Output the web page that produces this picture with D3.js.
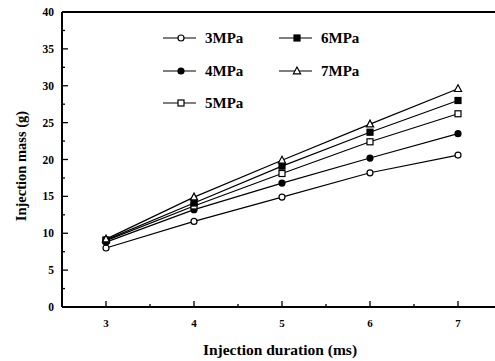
<!DOCTYPE html>
<html>
<head>
<meta charset="utf-8">
<script src="https://cdn.jsdelivr.net/npm/d3@7"></script>
<style>
  body { margin: 0; background: #fff; }
  text { font-family: "Liberation Serif", "Times New Roman", serif; font-weight: bold; fill: #000; }
</style>
</head>
<body>
<script>
// injection duration (ms)
const durations = [3, 4, 5, 6, 7];
// injection mass (g) for each pressure
const p3 = [8.0, 11.6, 14.9, 18.2, 20.6];
const p4 = [8.8, 13.2, 16.8, 20.2, 23.5];
const p5 = [9.0, 13.7, 18.1, 22.4, 26.2];
const p6 = [9.1, 14.1, 19.1, 23.7, 28.0];
const p7 = [9.2, 14.9, 19.9, 24.8, 29.6];
const seriesNames = ["3MPa", "4MPa", "5MPa", "6MPa", "7MPa"];
const xTicks = [3, 4, 5, 6, 7];
const yTicks = [0, 5, 10, 15, 20, 25, 30, 35, 40];

const series = [
  {name: "3MPa", vals: p3, mark: "circle", fill: "#fff"},
  {name: "4MPa", vals: p4, mark: "circle", fill: "#000"},
  {name: "5MPa", vals: p5, mark: "square", fill: "#fff"},
  {name: "6MPa", vals: p6, mark: "square", fill: "#000"},
  {name: "7MPa", vals: p7, mark: "triangle", fill: "#fff"}
];

const svg = d3.select("body").append("svg")
    .attr("width", 495)
    .attr("height", 361);

const x = d3.scaleLinear().domain([2.5, 7.5]).range([62, 502]);
const y = d3.scaleLinear().domain([0, 40]).range([307, 12]);

// frame
svg.append("line").attr("x1", 62).attr("x2", 495).attr("y1", 307).attr("y2", 307)
    .attr("stroke", "#000").attr("stroke-width", 2);
svg.append("line").attr("x1", 62).attr("x2", 62).attr("y1", 12).attr("y2", 307)
    .attr("stroke", "#000").attr("stroke-width", 2);
svg.append("line").attr("x1", 62).attr("x2", 495).attr("y1", 12).attr("y2", 12)
    .attr("stroke", "#000").attr("stroke-width", 2);

// x ticks (inward)
svg.selectAll(".xt").data(d3.range(3, 7.6, 0.5)).join("line")
    .attr("class", "xt")
    .attr("x1", d => x(d)).attr("x2", d => x(d))
    .attr("y1", 307).attr("y2", d => Number.isInteger(d) ? 301 : 304)
    .attr("stroke", "#000").attr("stroke-width", 1.3);
svg.selectAll(".xl").data(xTicks).join("text")
    .attr("class", "xl")
    .attr("x", d => x(d)).attr("y", 327)
    .attr("text-anchor", "middle").attr("font-size", 11)
    .text(d => d);

// y ticks (inward)
svg.selectAll(".yt").data(d3.range(2.5, 40, 2.5)).join("line")
    .attr("class", "yt")
    .attr("y1", d => y(d)).attr("y2", d => y(d))
    .attr("x1", 62).attr("x2", d => d % 5 === 0 ? 68 : 65)
    .attr("stroke", "#000").attr("stroke-width", 1.3);
svg.selectAll(".yl").data(yTicks).join("text")
    .attr("class", "yl")
    .attr("x", 54).attr("y", d => y(d) + 4)
    .attr("text-anchor", "end").attr("font-size", 11.5)
    .text(d => d);

// axis titles
svg.append("text").attr("x", 280).attr("y", 355)
    .attr("text-anchor", "middle").attr("font-size", 15.5)
    .text("Injection duration (ms)");
svg.append("text")
    .attr("transform", "translate(26,166) rotate(-90)")
    .attr("text-anchor", "middle").attr("font-size", 14.5)
    .text("Injection mass (g)");

const drawMark = (g, type, fill, cx, cy) => {
  if (type === "circle") {
    g.append("circle").attr("cx", cx).attr("cy", cy).attr("r", 3)
        .attr("fill", fill).attr("stroke", "#000").attr("stroke-width", 1.2);
  } else if (type === "square") {
    g.append("rect").attr("x", cx - 3).attr("y", cy - 3).attr("width", 6).attr("height", 6)
        .attr("fill", fill).attr("stroke", "#000").attr("stroke-width", 1.2);
  } else {
    g.append("path")
        .attr("d", `M${cx},${cy - 4}L${cx + 3.6},${cy + 2.8}L${cx - 3.6},${cy + 2.8}Z`)
        .attr("fill", fill).attr("stroke", "#000").attr("stroke-width", 1.2);
  }
};

const line = d3.line().x((d, i) => x(durations[i])).y(d => y(d));

series.forEach(s => {
  const g = svg.append("g");
  g.append("path").attr("d", line(s.vals))
      .attr("fill", "none").attr("stroke", "#000").attr("stroke-width", 1.2);
  s.vals.forEach((v, i) => drawMark(g, s.mark, s.fill, x(durations[i]), y(v)));
});

// legend
const legPos = [[163, 38], [163, 71], [163, 103], [279, 38], [279, 71]];
series.forEach((s, i) => {
  const [lx, ly] = legPos[i];
  const g = svg.append("g");
  g.append("line").attr("x1", lx).attr("x2", lx + 33).attr("y1", ly).attr("y2", ly)
      .attr("stroke", "#000").attr("stroke-width", 1.2);
  drawMark(g, s.mark, s.fill, lx + 18, ly);
  g.append("text").attr("x", lx + 42).attr("y", ly + 5)
      .attr("font-size", 15).text(seriesNames[i]);
});
</script>
</body>
</html>
